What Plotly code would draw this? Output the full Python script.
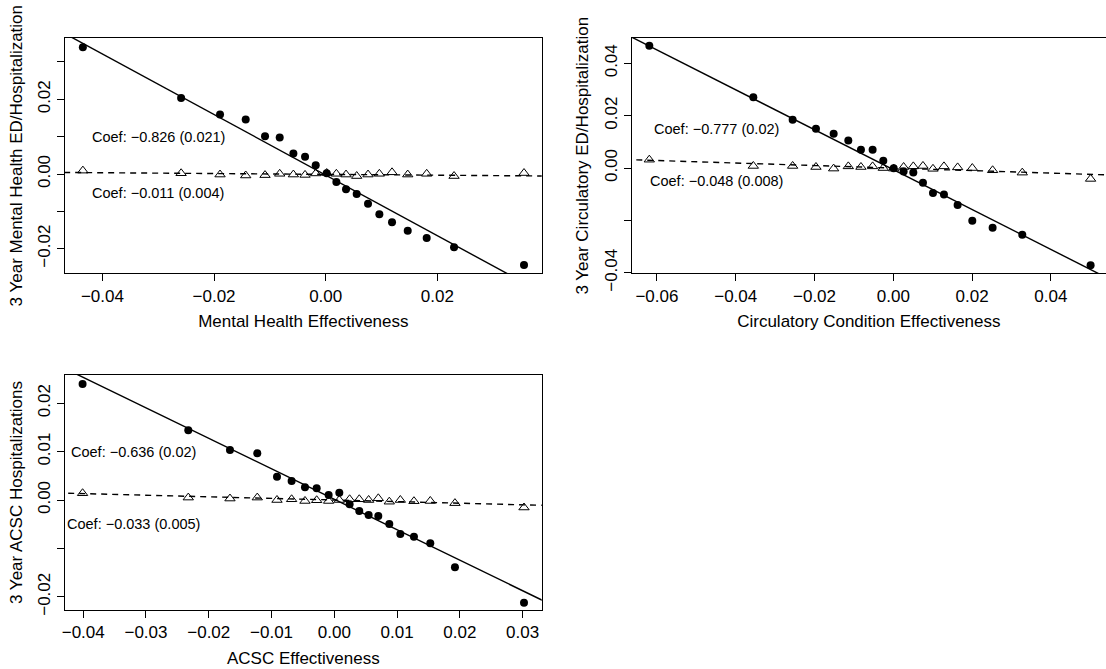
import plotly.graph_objects as go

# ---------------- data ----------------
# Panel 1: Mental Health
mh_x = [-0.0435, -0.0259, -0.01893, -0.01433, -0.01087, -0.00824, -0.00579, -0.00370, -0.00179, 0.00018,
        0.00191, 0.00364, 0.00555, 0.00758, 0.00961, 0.01188, 0.01469, 0.01809, 0.02299, 0.03552]
mh_y_main = [0.03396, 0.02036, 0.01591, 0.01458, 0.01013, 0.00978, 0.00551, 0.00462, 0.00231, 0.00018,
             -0.00213, -0.00409, -0.00533, -0.0080, -0.01076, -0.01289, -0.0152, -0.01716, -0.01964, -0.02436]
mh_y_ctrl = [0.00090, 0.00020, -0.00015, -0.00040, -0.00030, 0.00005, -0.00015, -0.00025, 0.00015, 0.00025,
             0.00005, -0.00015, -0.00055, -0.00015, 0.00005, 0.00045, -0.00015, 0.00005, -0.00055, 0.00025]

# Panel 2: Circulatory
ci_x = [-0.06193, -0.03553, -0.02555, -0.01963, -0.01514, -0.01142, -0.00821, -0.00525, -0.00254, 0.0001,
        0.00262, 0.00508, 0.00753, 0.01007, 0.01286, 0.01633, 0.02005, 0.02521, 0.03274, 0.05008]
ci_y_main = [0.04675, 0.02701, 0.01847, 0.01503, 0.01312, 0.01057, 0.00701, 0.00701, 0.0028, -0.0001,
             -0.00127, -0.00166, -0.0056, -0.00955, -0.01006, -0.01414, -0.02013, -0.0228, -0.02548, -0.03707]
ci_y_ctrl = [0.00320, 0.00080, 0.00080, 0.00040, -0.00020, 0.00065, 0.00040, 0.00065, 0.00000, -0.00020,
             0.00040, 0.00065, 0.00080, -0.00030, 0.00065, 0.00025, 0.00000, -0.00085, -0.00175, -0.00415]

# Panel 3: ACSC
ac_x = [-0.0401, -0.02326, -0.01662, -0.01227, -0.00913, -0.0068, -0.00467, -0.00281, -0.0009, 0.0008,
        0.00244, 0.00398, 0.00547, 0.00701, 0.00876, 0.01052, 0.01269, 0.01529, 0.01922, 0.03022]
ac_y_main = [0.02396, 0.01439, 0.01033, 0.00964, 0.00482, 0.00392, 0.00262, 0.00241, 0.00103, 0.00151,
             -0.0009, -0.00227, -0.0031, -0.0033, -0.00496, -0.00702, -0.00757, -0.00895, -0.01391, -0.0212]
ac_y_ctrl = [0.00140, 0.00050, 0.00030, 0.00050, 0.00000, 0.00015, -0.00020, -0.00005, -0.00020, 0.00000,
             0.00015, 0.00015, 0.00000, 0.00035, -0.00035, 0.00000, -0.00025, -0.00020, -0.00065, -0.00155]

# fitted lines (slope, intercept) as drawn
main_slope = [-0.811, -0.762, -0.6295]
main_icpt = [-0.0003, -0.0006, 0.00015]
ctrl_slope = [-0.011, -0.048, -0.033]
ctrl_icpt = [-0.0001, 0.0, 0.0]

main_labels = ["Coef: \u22120.826 (0.021)", "Coef: \u22120.777 (0.02)", "Coef: \u22120.636 (0.02)"]
ctrl_labels = ["Coef: \u22120.011 (0.004)", "Coef: \u22120.048 (0.008)", "Coef: \u22120.033 (0.005)"]
label_x = [-0.030, -0.045, -0.032]
main_label_y = [0.0100, 0.0150, 0.0100]
ctrl_label_y = [-0.0052, -0.0051, -0.0050]

x_titles = ["Mental Health Effectiveness", "Circulatory Condition Effectiveness", "ACSC Effectiveness"]
y_titles = ["3 Year Mental Health ED/Hospitalization", "3 Year Circulatory ED/Hospitalization",
            "3 Year ACSC Hospitalizations"]

x_tickvals = [[-0.04, -0.02, 0.0, 0.02],
              [-0.06, -0.04, -0.02, 0.0, 0.02, 0.04],
              [-0.04, -0.03, -0.02, -0.01, 0.0, 0.01, 0.02, 0.03]]
y_tickvals = [[-0.02, -0.01, 0.0, 0.01, 0.02, 0.03],
              [-0.04, -0.02, 0.0, 0.02, 0.04],
              [-0.02, -0.01, 0.0, 0.01, 0.02]]
y_labelled = [[-0.02, 0.0, 0.02],
              [-0.04, 0.0, 0.02, 0.04],
              [-0.02, 0.0, 0.01, 0.02]]

x_ranges = [[-0.0467, 0.03869], [-0.0664, 0.05399], [-0.0429, 0.03304]]
y_ranges = [[-0.02662, 0.03642], [-0.04023, 0.04967], [-0.02272, 0.02582]]

W, H = 1106, 669
x_domains = [[65 / W, 541.7 / W], [631.7 / W, 1.0], [65 / W, 541.7 / W]]
y_domains = [[1 - 273.4 / H, 1 - 38 / H], [1 - 273.4 / H, 1 - 38 / H], [1 - 610 / H, 1 - 375 / H]]

FONT = "Liberation Sans, Arial, Helvetica, sans-serif"
AX_FONT_SIZE = 17


def fmt(v):
    s = "%.2f" % abs(v)
    return ("\u2212" + s) if v < -1e-12 else s


fig = go.Figure()

xs = [mh_x, ci_x, ac_x]
ys_main = [mh_y_main, ci_y_main, ac_y_main]
ys_ctrl = [mh_y_ctrl, ci_y_ctrl, ac_y_ctrl]

for i in range(3):
    xa = "x" if i == 0 else "x%d" % (i + 1)
    ya = "y" if i == 0 else "y%d" % (i + 1)
    x0, x1 = x_ranges[i]
    lx = [x0 - 0.01, x1 + 0.01]
    fig.add_trace(go.Scatter(x=lx, y=[main_icpt[i] + main_slope[i] * v for v in lx], mode="lines",
                             line=dict(color="black", width=1.4), xaxis=xa, yaxis=ya, showlegend=False))
    fig.add_trace(go.Scatter(x=lx, y=[ctrl_icpt[i] + ctrl_slope[i] * v for v in lx], mode="lines",
                             line=dict(color="black", width=1.4, dash="6px,5px"), xaxis=xa, yaxis=ya,
                             showlegend=False))
    fig.add_trace(go.Scatter(x=xs[i], y=ys_main[i], mode="markers",
                             marker=dict(symbol="circle", size=8, color="black"),
                             xaxis=xa, yaxis=ya, showlegend=False))
    fig.add_trace(go.Scatter(x=xs[i], y=ys_ctrl[i], mode="markers",
                             marker=dict(symbol="triangle-up-open", size=9, color="black",
                                         line=dict(color="black", width=1)),
                             xaxis=xa, yaxis=ya, showlegend=False))
    fig.add_annotation(x=label_x[i], y=main_label_y[i], xref=xa, yref=ya, text=main_labels[i],
                       showarrow=False, xanchor="center", yanchor="middle",
                       font=dict(family=FONT, size=14.5, color="black"))
    fig.add_annotation(x=label_x[i], y=ctrl_label_y[i], xref=xa, yref=ya, text=ctrl_labels[i],
                       showarrow=False, xanchor="center", yanchor="middle",
                       font=dict(family=FONT, size=14.5, color="black"))

axis_common = dict(showgrid=False, zeroline=False, showline=True, linecolor="black", linewidth=1,
                   ticks="outside", ticklen=7, tickwidth=1, tickcolor="black", automargin=False,
                   tickfont=dict(family=FONT, size=AX_FONT_SIZE, color="black"))

layout = {}
for i in range(3):
    xk = "xaxis" if i == 0 else "xaxis%d" % (i + 1)
    yk = "yaxis" if i == 0 else "yaxis%d" % (i + 1)
    ya = "y" if i == 0 else "y%d" % (i + 1)
    xa = "x" if i == 0 else "x%d" % (i + 1)
    layout[xk] = dict(axis_common, domain=x_domains[i], range=x_ranges[i], anchor=ya,
                      tickvals=x_tickvals[i], ticktext=[fmt(v) for v in x_tickvals[i]],
                      mirror=True,
                      title=dict(text=x_titles[i], font=dict(family=FONT, size=AX_FONT_SIZE, color="black"),
                                 standoff=10))
    layout[yk] = dict(axis_common, domain=y_domains[i], range=y_ranges[i], anchor=xa,
                      tickvals=y_tickvals[i],
                      ticktext=[fmt(v) if any(abs(v - u) < 1e-9 for u in y_labelled[i]) else ""
                                for v in y_tickvals[i]],
                      tickangle=-90, mirror=(i != 1),
                      title=dict(text=y_titles[i], font=dict(family=FONT, size=AX_FONT_SIZE, color="black"),
                                 standoff=8))

fig.update_layout(width=W, height=H, margin=dict(l=0, r=0, t=0, b=0, autoexpand=False),
                  paper_bgcolor="white", plot_bgcolor="white",
                  font=dict(family=FONT, size=AX_FONT_SIZE, color="black"), **layout)

fig.write_html("out.html")
